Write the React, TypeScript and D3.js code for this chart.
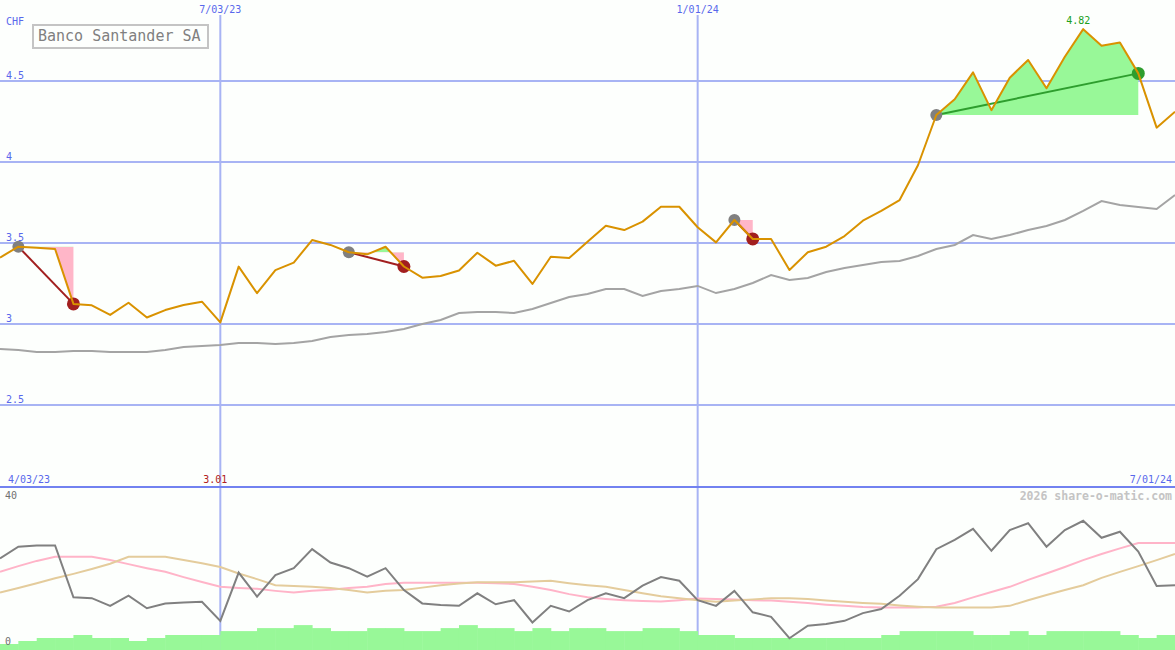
import React from "react";
import * as d3 from "d3";

// ---- data ----
const START = new Date(2023, 3, 10);
const END = new Date(2024, 6, 1);
const weeks: Date[] = d3.timeMonday.range(START, d3.timeDay.offset(END, 1));

const title = "Banco Santander SA";
const currency = "CHF";
const credit = "2026 share-o-matic.com";

const price = [
  3.41, 3.477, 3.47, 3.463, 3.124, 3.115, 3.056, 3.131, 3.04, 3.086,
  3.117, 3.138, 3.01, 3.354, 3.19, 3.333, 3.379, 3.518, 3.488, 3.443,
  3.43, 3.477, 3.355, 3.286, 3.296, 3.33, 3.44, 3.36, 3.39, 3.247,
  3.415, 3.407, 3.508, 3.607, 3.58, 3.632, 3.724, 3.724, 3.597, 3.504,
  3.642, 3.525, 3.525, 3.333, 3.443, 3.477, 3.543, 3.638, 3.698, 3.765,
  3.98, 4.29, 4.387, 4.553, 4.32, 4.52, 4.63, 4.455, 4.65, 4.82,
  4.718, 4.737, 4.547, 4.212, 4.31,
];

const average = [
  2.846, 2.84, 2.827, 2.827, 2.833, 2.833, 2.827, 2.827, 2.827, 2.84,
  2.858, 2.864, 2.87, 2.883, 2.883, 2.877, 2.883, 2.895, 2.92, 2.932,
  2.938, 2.951, 2.969, 3.0, 3.025, 3.068, 3.074, 3.074, 3.068, 3.093,
  3.13, 3.167, 3.185, 3.216, 3.216, 3.173, 3.204, 3.216, 3.235, 3.191,
  3.216, 3.253, 3.302, 3.272, 3.284, 3.321, 3.346, 3.364, 3.383, 3.389,
  3.42, 3.463, 3.488, 3.549, 3.525, 3.549, 3.58, 3.605, 3.642, 3.698,
  3.759, 3.735, 3.722, 3.71, 3.796,
];

const oscillator = [
  22.6, 25.5, 25.8, 25.8, 13.0, 12.8, 10.9, 13.4, 10.3, 11.5,
  11.7, 11.9, 7.2, 19.1, 13.2, 18.5, 20.2, 24.9, 21.6, 20.2,
  18.1, 20.2, 14.8, 11.5, 11.1, 10.9, 14.0, 11.3, 12.3, 6.8,
  10.9, 9.5, 12.3, 14.0, 12.8, 15.9, 18.0, 17.1, 12.3, 10.9,
  14.6, 9.3, 8.2, 2.9, 6.0, 6.4, 7.2, 9.1, 10.1, 13.4,
  17.5, 24.9, 27.2, 29.9, 24.5, 29.6, 31.3, 25.5, 29.6, 31.9,
  27.7, 29.2, 24.3, 15.8, 16.0,
];

const oscFast = [
  19.3, 20.7, 22.0, 23.0, 23.0, 23.0, 22.2, 21.2, 20.2, 19.3,
  18.0, 16.8, 15.6, 15.3, 15.1, 14.6, 14.2, 14.6, 14.9, 15.3,
  15.6, 16.3, 16.6, 16.6, 16.6, 16.6, 16.6, 16.5, 16.3, 15.6,
  14.8, 13.8, 13.0, 12.6, 12.3, 12.1, 12.0, 12.3, 12.7, 12.6,
  12.5, 12.3, 12.2, 11.9, 11.6, 11.2, 10.9, 10.6, 10.5, 10.5,
  10.5, 10.7, 11.6, 13.0, 14.3, 15.6, 17.3, 18.9, 20.5, 22.2,
  23.7, 25.1, 26.4, 26.4, 26.4,
];

const oscSlow = [
  14.2, 15.3, 16.5, 17.7, 18.8, 20.0, 21.3, 23.0, 23.0, 23.0,
  22.2, 21.4, 20.5, 18.9, 17.5, 16.0, 15.8, 15.6, 15.3, 14.8,
  14.2, 14.6, 14.8, 15.4, 16.0, 16.4, 16.7, 16.7, 16.7, 16.9,
  17.1, 16.5, 16.0, 15.6, 14.8, 14.0, 13.3, 12.8, 12.3, 11.9,
  12.2, 12.5, 12.8, 12.8, 12.6, 12.2, 11.9, 11.6, 11.4, 11.0,
  10.7, 10.5, 10.5, 10.5, 10.5, 10.9, 12.3, 13.6, 14.8, 16.0,
  17.8, 19.3, 20.7, 22.2, 23.7,
];

const volume = [
  2, 2, 3, 4, 4, 5, 4, 4, 3, 4,
  5, 5, 5, 6.3, 6.3, 7.3, 7.3, 8.3, 7.3, 6.3,
  6.3, 7.3, 7.3, 6.3, 6.3, 7.3, 8.3, 7.3, 7.3, 6.3,
  7.3, 6.3, 7.3, 7.3, 6.3, 6.3, 7.3, 7.3, 6.3, 5,
  5, 4, 4, 4, 4, 4, 4, 4, 4, 5,
  6.3, 6.3, 6.3, 6.3, 5, 5, 6.3, 5, 6.3, 6.3,
  6.3, 6.3, 5, 4, 5,
];

const priceTicks = [4.5, 4, 3.5, 3, 2.5];
const oscTicks = [40, 0];
const gridDates = [new Date(2023, 6, 3), new Date(2024, 0, 1)];
const periodDates = [new Date(2023, 3, 3), new Date(2024, 6, 1)];
const trades = [
  { entry: 1, exit: 4 },
  { entry: 19, exit: 22 },
  { entry: 40, exit: 41 },
  { entry: 51, exit: 62 },
];

// ---- styles ----
const W = 1175;
const H = 650;
const MONO = "'DejaVu Sans Mono', monospace";
const C = {
  bg: "#fdfffd",
  grid: "#a8b4f4",
  divider: "#7282f0",
  label: "#5868ec",
  price: "#d99200",
  avg: "#a4a4a4",
  osc: "#808080",
  oscFast: "#ffb4c8",
  oscSlow: "#e4cc9c",
  vol: "#98f898",
  up: "#98f898",
  down: "#ffb6c8",
  lossLine: "#a21f1f",
  winLine: "#2e9e2e",
  entry: "#808080",
  low: "#b02020",
  high: "#20a020",
};

const fmt = d3.timeFormat("%-m/%d/%y");

export default function App() {
  const x = d3.scaleTime().domain([START, END]).range([0, W]);
  const y = d3.scaleLinear().domain([2, 5]).range([486, 0]);
  const yo = d3.scaleLinear().domain([0, 40]).range([650, 488]);
  const yv = d3.scaleLinear().domain([0, 54]).range([650, 488]);

  const idx = d3.range(weeks.length);
  const lineP = d3.line<number>().x((i) => x(weeks[i])).y((i) => y(price[i]));
  const lineA = d3.line<number>().x((i) => x(weeks[i])).y((i) => y(average[i]));
  const lineO = (arr: number[]) =>
    d3.line<number>().x((i) => x(weeks[i])).y((i) => yo(arr[i]))(idx) || "";

  const lowI = d3.minIndex(price);
  const highI = d3.maxIndex(price);

  return (
    <div style={{ position: "fixed", left: 0, top: 0 }}>
      <svg width={W} height={H} style={{ display: "block" }}>
        <defs>
          {trades.map((t, k) => (
            <React.Fragment key={k}>
              <clipPath id={`up${k}`}>
                <rect x={0} y={0} width={W} height={y(price[t.entry])} />
              </clipPath>
              <clipPath id={`dn${k}`}>
                <rect x={0} y={y(price[t.entry])} width={W} height={486 - y(price[t.entry])} />
              </clipPath>
            </React.Fragment>
          ))}
        </defs>
        <rect x={0} y={0} width={W} height={H} fill={C.bg} />

        {priceTicks.map((v) => (
          <line key={v} x1={0} x2={W} y1={y(v)} y2={y(v)} stroke={C.grid} strokeWidth={2} />
        ))}
        {gridDates.map((d) => (
          <line key={+d} x1={x(d)} x2={x(d)} y1={15} y2={H} stroke={C.grid} strokeWidth={2} />
        ))}

        <path d={lineA(idx) || ""} fill="none" stroke={C.avg} strokeWidth={2} />

        {trades.map((t, k) => {
          const seg = d3.range(t.entry, t.exit + 1);
          const area = d3
            .area<number>()
            .x((i) => x(weeks[i]))
            .y0(y(price[t.entry]))
            .y1((i) => y(price[i]))(seg) || "";
          return (
            <g key={k}>
              <path d={area} fill={C.up} clipPath={`url(#up${k})`} />
              <path d={area} fill={C.down} clipPath={`url(#dn${k})`} />
            </g>
          );
        })}
        {trades.map((t, k) => {
          const win = price[t.exit] > price[t.entry];
          return (
            <line
              key={k}
              x1={x(weeks[t.entry])}
              y1={y(price[t.entry])}
              x2={x(weeks[t.exit])}
              y2={y(price[t.exit])}
              stroke={win ? C.winLine : C.lossLine}
              strokeWidth={2}
            />
          );
        })}
        {trades.map((t, k) => {
          const win = price[t.exit] > price[t.entry];
          return (
            <g key={k}>
              <circle cx={x(weeks[t.entry])} cy={y(price[t.entry])} r={6} fill={C.entry} />
              <circle cx={x(weeks[t.exit])} cy={y(price[t.exit])} r={6.5} fill={win ? C.winLine : C.lossLine} />
            </g>
          );
        })}

        <path d={lineP(idx) || ""} fill="none" stroke={C.price} strokeWidth={2} strokeLinejoin="round" />

        {/* axis labels */}
        <text x={6} y={25} fontFamily={MONO} fontSize={10} fill={C.label}>{currency}</text>
        {priceTicks.map((v) => (
          <text key={v} x={6} y={y(v) - 2} fontFamily={MONO} fontSize={10} fill={C.label}>
            {String(v)}
          </text>
        ))}
        {gridDates.map((d) => (
          <text key={+d} x={x(d)} y={13} textAnchor="middle" fontFamily={MONO} fontSize={10} fill={C.label}>
            {fmt(d)}
          </text>
        ))}

        {/* title box */}
        <rect x={33} y={25} width={175} height={23} fill={C.bg} stroke="#c4c4c4" strokeWidth={2} />
        <text x={38} y={41} fontFamily={MONO} fontSize={15} fill="#808080">{title}</text>

        {/* high / low */}
        <text x={x(weeks[highI]) - 5} y={y(price[highI]) - 5} textAnchor="middle" fontFamily={MONO} fontSize={10} fill={C.high}>
          {price[highI].toFixed(2)}
        </text>
        <text x={x(weeks[lowI]) - 5} y={483} textAnchor="middle" fontFamily={MONO} fontSize={10} fill={C.low}>
          {price[lowI].toFixed(2)}
        </text>

        {/* period labels and divider */}
        <text x={8} y={483} fontFamily={MONO} fontSize={10} fill={C.label}>{fmt(periodDates[0])}</text>
        <text x={1172} y={483} textAnchor="end" fontFamily={MONO} fontSize={10} fill={C.label}>{fmt(periodDates[1])}</text>
        <line x1={0} x2={W} y1={487} y2={487} stroke={C.divider} strokeWidth={2} />

        {/* lower panel */}
        {idx.map((i) => {
          const x0 = x(d3.timeWeek.offset(weeks[i], -1));
          const x1 = x(weeks[i]);
          return <rect key={i} x={x0} y={yv(volume[i])} width={x1 - x0 + 0.5} height={650 - yv(volume[i])} fill={C.vol} />;
        })}
        <path d={lineO(oscFast)} fill="none" stroke={C.oscFast} strokeWidth={2} />
        <path d={lineO(oscSlow)} fill="none" stroke={C.oscSlow} strokeWidth={2} />
        <path d={lineO(oscillator)} fill="none" stroke={C.osc} strokeWidth={2} />

        {oscTicks.map((v) => (
          <text key={v} x={5} y={v > 0 ? yo(v) + 11 : yo(v) - 5} fontFamily={MONO} fontSize={10} fill="#707070">
            {String(v)}
          </text>
        ))}
        <text x={1172} y={500} textAnchor="end" fontFamily={MONO} fontSize={11.5} fontWeight="bold" fill="#c4c4c4">
          {credit}
        </text>
      </svg>
    </div>
  );
}
